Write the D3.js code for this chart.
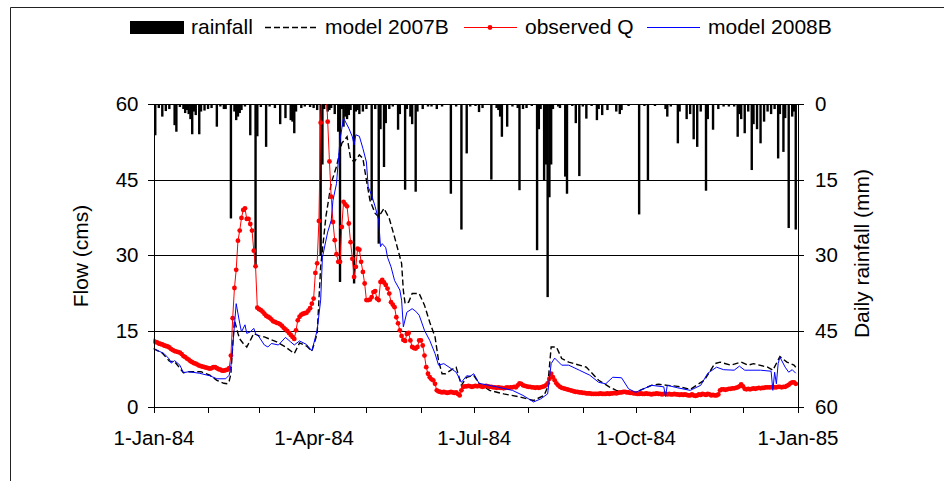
<!DOCTYPE html>
<html>
<head>
<meta charset="utf-8">
<script src="https://cdn.jsdelivr.net/npm/d3@7"></script>
<style>
  html, body { margin: 0; padding: 0; background: #fff; }
  svg { display: block; font-family: "Liberation Sans", Arial, sans-serif; }
</style>
</head>
<body>
<svg id="chart" width="944" height="481"></svg>
<script>
// ---- data -------------------------------------------------------------
// Daily observed flow (cms), 1-Jan-1984 .. 31-Dec-1984 (day 0 .. 365)
const observedQ = [
  13.0, 12.8, 12.7, 12.5, 12.4, 12.3, 12.1, 12.0, 11.9, 11.7,
  11.4, 11.2, 11.0, 10.9, 10.8, 10.7, 10.4, 10.0, 9.8, 9.5,
  9.3, 9.0, 8.8, 8.6, 8.5, 8.3, 8.1, 8.0, 7.9, 7.8,
  7.7, 7.6, 7.5, 7.6, 7.8, 7.8, 7.6, 7.4, 7.3, 7.1,
  7.1, 7.2, 7.3, 7.6, 10.1, 17.5, 23.5, 27.1, 32.9, 34.9,
  37.4, 39.0, 39.3, 37.2, 37.2, 36.2, 34.9, 30.9, 27.8, 19.6,
  19.3, 19.1, 18.8, 18.4, 18.0, 17.8, 17.6, 17.3, 16.9, 16.8,
  16.6, 16.5, 16.3, 16.0, 15.6, 15.3, 15.0, 14.6, 14.2, 13.8,
  13.4, 15.1, 17.1, 17.8, 18.2, 18.4, 18.5, 18.6, 19.0, 19.5,
  20.4, 21.4, 26.5, 28.4, 36.8, 56.3, 66.0, 75.0, 64.0, 56.5,
  48.6, 41.6, 36.6, 33.0, 30.2, 28.7, 28.7, 35.6, 40.6, 40.1,
  39.7, 36.3, 32.6, 29.3, 25.7, 27.7, 31.3, 31.1, 28.7, 26.7,
  24.4, 21.1, 21.1, 21.2, 21.7, 22.7, 22.9, 21.4, 21.1, 24.7,
  25.1, 24.6, 24.1, 23.4, 22.4, 20.7, 20.2, 19.7, 17.7, 16.5,
  15.1, 14.0, 13.2, 13.0, 14.4, 14.6, 13.1, 11.8, 11.6, 11.5,
  11.8, 13.1, 13.1, 12.1, 10.1, 7.8, 6.5, 5.8, 5.4, 5.2,
  4.5, 3.2, 3.0, 2.9, 2.8, 2.9, 2.8, 2.7, 2.8, 2.9,
  2.8, 2.7, 2.8, 2.5, 2.2, 3.2, 3.9, 4.0, 4.0, 4.1,
  4.0, 3.9, 4.0, 4.1, 4.0, 4.1, 4.0, 3.9, 4.0, 4.1,
  4.0, 3.9, 3.9, 3.8, 3.8, 3.7, 3.8, 3.7, 3.7, 3.6,
  3.7, 3.8, 3.7, 3.8, 3.8, 3.9, 3.8, 4.2, 4.6, 4.5,
  4.2, 4.1, 4.0, 3.9, 3.9, 3.8, 3.8, 3.7, 3.8, 3.7,
  3.8, 3.9, 4.0, 4.2, 4.6, 5.5, 6.5, 5.8, 5.2, 4.6,
  4.2, 3.9, 3.7, 3.6, 3.5, 3.4, 3.3, 3.2, 3.1, 3.0,
  2.9, 2.9, 2.8, 2.8, 2.7, 2.7, 2.6, 2.6, 2.6, 2.5,
  2.5, 2.5, 2.5, 2.5, 2.6, 2.5, 2.5, 2.5, 2.6, 2.5,
  2.6, 2.6, 2.7, 2.6, 2.7, 2.8, 2.8, 2.9, 2.9, 2.8,
  2.8, 2.7, 2.7, 2.6, 2.6, 2.5, 2.5, 2.6, 2.5, 2.5,
  2.6, 2.5, 2.5, 2.4, 2.5, 2.5, 2.6, 2.5, 2.5, 2.4,
  2.5, 2.5, 2.4, 2.5, 2.4, 2.4, 2.5, 2.4, 2.4, 2.3,
  2.4, 2.3, 2.4, 2.3, 2.2, 2.2, 2.4, 2.2, 2.1, 2.2,
  2.4, 2.3, 2.5, 2.4, 2.3, 2.5, 2.4, 2.2, 2.3, 2.2,
  2.2, 2.4, 3.2, 3.4, 3.4, 3.3, 3.4, 3.5, 3.5, 3.6,
  3.6, 3.7, 3.8, 4.0, 4.4, 4.0, 3.5, 3.4, 3.5, 3.4,
  3.5, 3.6, 3.5, 3.6, 3.7, 3.6, 3.7, 3.7, 3.8, 3.8,
  3.8, 3.8, 3.9, 3.8, 3.8, 3.9, 3.9, 3.8, 3.9, 3.9,
  4.1, 4.3, 4.6, 4.8, 4.8, 4.5
];

// Model 2007B simulated flow (cms): day of year and value
const model2007BDays = [0, 5, 9, 12, 17, 20, 27, 32, 36, 40, 42, 43, 44, 45, 46, 48, 49, 51, 53, 55,
  57, 60, 63, 70, 75, 80, 83, 87, 90, 93, 95, 98, 101, 104, 107, 110, 112, 114, 117, 119,
  121, 123, 126, 128, 131, 134, 137, 141, 142, 143, 145, 147, 151, 154, 157, 160, 162, 164, 166, 169,
  172, 175, 178, 182, 185, 191, 199, 208, 216, 222, 224, 226, 229, 232, 236, 246, 253, 259, 263, 269,
  274, 283, 287, 292, 298, 305, 313, 319, 322, 328, 334, 338, 341, 349, 352, 356, 360, 364, 365];
const model2007BFlow = [11.5, 10.6, 9.0, 8.9, 6.7, 6.9, 6.9, 6.2, 5.2, 4.6, 4.5, 5.0, 6.5, 12.0, 17.1, 14.5, 13.4, 12.5, 11.8, 13.1,
  14.5, 14.0, 13.8, 12.8, 11.8, 10.5, 12.6, 12.0, 11.0, 14.4, 27.7, 37.7, 44.3, 47.6, 52.2, 53.5, 49.2, 48.5, 49.9, 49.2,
  44.9, 40.9, 38.3, 37.6, 39.3, 37.3, 33.6, 28.4, 23.0, 20.4, 20.7, 22.4, 22.4, 20.1, 16.7, 13.8, 9.1, 6.5, 6.5, 7.2,
  7.8, 4.2, 5.8, 6.2, 4.6, 3.2, 2.5, 1.9, 1.2, 2.2, 3.9, 11.8, 11.8, 9.5, 8.8, 7.8, 5.2, 3.9, 3.2, 2.9,
  2.8, 4.2, 4.4, 4.2, 4.0, 3.4, 5.2, 8.5, 8.8, 8.2, 8.8, 8.2, 8.5, 7.8, 7.2, 9.9, 8.8, 8.2, 7.8];

// Model 2008B simulated flow (cms): day of year and value
const model2008BDays = [0, 3, 6, 9, 10, 12, 15, 17, 20, 26, 32, 36, 41, 43, 44, 45, 47, 49, 50, 52,
  53, 55, 57, 58, 60, 63, 65, 67, 71, 75, 78, 80, 83, 87, 90, 93, 95, 96, 99, 101,
  102, 104, 106, 108, 111, 113, 114, 115, 117, 119, 121, 122, 124, 126, 128, 129, 130, 132, 133, 135,
  137, 140, 141, 142, 144, 147, 149, 151, 154, 157, 160, 162, 165, 168, 172, 175, 178, 180, 182, 185,
  195, 204, 210, 216, 220, 224, 226, 228, 232, 236, 242, 248, 253, 257, 261, 266, 270, 274, 283, 290,
  291, 292, 298, 305, 311, 315, 320, 324, 330, 333, 336, 345, 351, 352, 353, 354, 355, 356, 359, 361,
  363, 365];
const model2008BFlow = [11.5, 11.0, 10.5, 9.4, 8.6, 9.1, 8.2, 6.7, 6.9, 6.6, 6.1, 5.5, 5.5, 6.2, 8.0, 11.8, 20.4, 16.5, 14.8, 16.2,
  14.5, 14.8, 15.5, 14.5, 13.8, 12.2, 11.8, 12.5, 12.2, 13.7, 12.8, 12.2, 13.0, 12.3, 11.0, 15.1, 21.1, 29.6, 34.6, 36.9,
  40.9, 44.2, 52.9, 57.2, 55.2, 53.5, 51.9, 53.9, 53.6, 51.2, 48.5, 43.6, 41.9, 39.6, 36.9, 31.7, 32.3, 31.5, 29.6, 27.7,
  25.0, 23.1, 21.1, 15.8, 18.7, 19.4, 18.9, 18.1, 15.1, 13.1, 10.5, 8.2, 8.5, 7.8, 6.8, 4.8, 6.1, 6.0, 6.5, 4.6,
  3.9, 3.2, 2.2, 0.9, 1.5, 2.5, 8.5, 9.6, 8.2, 8.2, 7.2, 6.2, 4.8, 4.5, 5.8, 5.7, 3.5, 2.8, 4.2, 3.9,
  2.0, 4.2, 3.7, 3.2, 4.2, 6.6, 7.8, 7.3, 7.2, 8.0, 7.2, 7.2, 7.0, 3.2, 6.8, 4.5, 8.5, 9.8, 7.8, 6.8,
  7.3, 6.6];

// Daily rainfall (mm) on the days that had rain
const rainDays = [1, 3, 5, 7, 9, 12, 13, 15, 17, 18, 19, 20, 21, 22, 23, 24, 26, 27, 29, 31,
  33, 36, 38, 40, 41, 44, 46, 47, 48, 49, 50, 52, 55, 58, 59, 61, 64, 66, 69, 72,
  75, 78, 79, 80, 81, 84, 86, 89, 91, 93, 95, 96, 97, 99, 100, 101, 103, 105, 106, 107,
  108, 109, 110, 111, 112, 114, 115, 116, 117, 119, 121, 124, 126, 128, 129, 131, 132, 134, 136, 139,
  140, 143, 144, 146, 147, 149, 150, 153, 156, 158, 161, 164, 169, 172, 175, 178, 180, 183, 185, 187,
  192, 195, 196, 197, 198, 201, 204, 207, 208, 210, 212, 215, 218, 219, 220, 222, 223, 224, 225, 226,
  227, 230, 231, 234, 235, 238, 240, 242, 244, 246, 249, 252, 253, 255, 258, 263, 265, 266, 270, 276,
  279, 281, 285, 291, 292, 294, 298, 299, 303, 305, 307, 309, 311, 314, 315, 318, 321, 324, 327, 330,
  332, 333, 334, 336, 338, 340, 341, 343, 345, 347, 349, 351, 353, 355, 356, 358, 359, 361, 363, 364,
  365];
const rainMm = [6.2, 0.8, 2.5, 1.4, 1.0, 4.2, 5.5, 0.6, 1.0, 1.8, 1.2, 2.0, 3.0, 6.0, 1.5, 2.2, 6.0, 1.5, 1.3, 1.0,
  0.8, 4.5, 0.5, 1.0, 1.0, 22.7, 1.5, 3.2, 2.5, 1.8, 1.2, 0.5, 6.2, 32.3, 6.4, 0.6, 8.5, 0.5, 0.8, 4.0,
  2.8, 3.2, 3.5, 5.8, 1.5, 0.8, 0.5, 0.6, 0.8, 1.2, 30.0, 12.0, 1.0, 1.5, 1.2, 0.8, 2.0, 5.5, 35.3, 1.0,
  4.5, 2.5, 3.0, 2.2, 1.2, 35.6, 1.5, 1.2, 2.0, 1.5, 1.0, 19.1, 1.0, 27.7, 5.0, 12.5, 3.8, 1.0, 0.5, 5.1,
  2.0, 17.0, 1.0, 2.5, 4.0, 17.4, 1.5, 1.0, 0.5, 0.5, 1.0, 0.5, 17.8, 0.5, 24.9, 9.8, 0.5, 0.4, 1.6, 0.8,
  15.0, 0.8, 1.2, 2.5, 6.5, 4.5, 0.5, 0.8, 17.1, 1.0, 0.8, 0.4, 29.0, 5.0, 1.0, 15.1, 12.0, 38.3, 18.5, 12.0,
  1.0, 0.5, 0.8, 14.4, 17.8, 0.4, 3.8, 14.3, 0.5, 2.9, 0.4, 3.2, 1.0, 2.2, 1.2, 1.5, 2.0, 1.2, 0.4, 21.9,
  0.4, 15.1, 0.4, 1.0, 2.5, 0.5, 7.8, 1.5, 3.0, 2.0, 7.0, 8.5, 1.5, 17.2, 3.0, 5.1, 1.0, 0.5, 0.5, 0.5,
  6.5, 2.0, 3.0, 5.8, 1.5, 13.1, 4.0, 5.0, 7.8, 3.5, 1.5, 2.0, 1.0, 10.8, 2.0, 9.5, 2.8, 24.6, 2.5, 1.5,
  24.9];

const flowTicks = [0, 15, 30, 45, 60];
const rainTicks = [0, 15, 30, 45, 60];
const labelledMonths = [0, 3, 6, 9];   // Jan, Apr, Jul, Oct

// ---- layout -----------------------------------------------------------
const svg = d3.select("#chart");
const plotL = 153.5, plotR = 798, plotT = 104, plotB = 406.5;
const font = 20.5;

const start = new Date(Date.UTC(1984, 0, 1));
const end = new Date(Date.UTC(1985, 0, 1));
const dayDate = d => d3.utcDay.offset(start, d);

const x = d3.scaleUtc().domain([start, end]).range([plotL, plotR - 0.5]);
const y = d3.scaleLinear().domain([0, 60]).range([plotB, plotT]);
const yRain = d3.scaleLinear().domain([0, 60]).range([plotT, plotB]);

// outer chart frame (left and top edges)
svg.append("path")
  .attr("d", "M10.5,481V7.5H944")
  .attr("fill", "none").attr("stroke", "#222").attr("stroke-width", 1);

svg.append("defs").append("clipPath").attr("id", "plotClip")
  .append("rect").attr("x", plotL).attr("y", plotT)
  .attr("width", plotR - plotL).attr("height", plotB - plotT);

// horizontal gridlines
svg.append("g").selectAll("line").data(flowTicks.filter(v => v > 0)).join("line")
  .attr("x1", plotL).attr("x2", plotR)
  .attr("y1", d => Math.round(y(d)) + 0.5).attr("y2", d => Math.round(y(d)) + 0.5)
  .attr("stroke", "#000").attr("stroke-width", 1);

// rainfall bars hanging from the top (secondary, reversed axis)
const rain = rainDays.map((d, i) => ({ date: dayDate(d), mm: rainMm[i] }));
svg.append("g").selectAll("rect").data(rain).join("rect")
  .attr("x", d => x(d.date) - 1.2)
  .attr("width", 2.4)
  .attr("y", yRain(0))
  .attr("height", d => yRain(d.mm) - yRain(0))
  .attr("fill", "#000");

const plot = svg.append("g").attr("clip-path", "url(#plotClip)");
const line = d3.line().x(d => x(d.date)).y(d => y(d.q));

// model 2007B (black dashed)
const m2007 = model2007BDays.map((d, i) => ({ date: dayDate(d), q: model2007BFlow[i] }));
plot.append("path").datum(m2007).attr("d", line)
  .attr("fill", "none").attr("stroke", "#000").attr("stroke-width", 1.4)
  .attr("stroke-dasharray", "6,3");

// observed Q (red line with round markers)
const obs = observedQ.map((q, i) => ({ date: dayDate(i), q }));
plot.append("path").datum(obs).attr("d", line)
  .attr("fill", "none").attr("stroke", "#ff0000").attr("stroke-width", 1);
plot.append("g").selectAll("circle").data(obs).join("circle")
  .attr("cx", d => x(d.date)).attr("cy", d => y(d.q)).attr("r", 2.4)
  .attr("fill", "#ff0000");

// model 2008B (blue)
const m2008 = model2008BDays.map((d, i) => ({ date: dayDate(d), q: model2008BFlow[i] }));
plot.append("path").datum(m2008).attr("d", line)
  .attr("fill", "none").attr("stroke", "#0000ff").attr("stroke-width", 1);

// ---- axes -------------------------------------------------------------
function styleAxis(g) {
  g.attr("font-family", null).attr("font-size", null);
  g.selectAll("path, line").attr("stroke", "#000").attr("shape-rendering", "crispEdges");
  g.selectAll("text").attr("fill", "#000").style("font-size", font + "px");
}

svg.append("g").attr("transform", `translate(${plotL},0)`)
  .call(d3.axisLeft(y).tickValues(flowTicks).tickSize(6).tickSizeOuter(0).tickPadding(9))
  .call(styleAxis);

svg.append("g").attr("transform", `translate(${plotR},0)`)
  .call(d3.axisRight(yRain).tickValues(rainTicks).tickSize(6).tickSizeOuter(0).tickPadding(11))
  .call(styleAxis);

const fmt = d3.utcFormat("%-d-%b-%y");
const xAxis = svg.append("g").attr("transform", `translate(0,${plotB})`)
  .call(d3.axisBottom(x).ticks(d3.utcMonth.every(1)).tickSize(6).tickSizeOuter(0)
    .tickFormat(d => labelledMonths.includes(d.getUTCMonth()) ? fmt(d) : ""))
  .call(styleAxis);
xAxis.selectAll("text").attr("y", 38.5).attr("dy", 0);

// axis titles
svg.append("text")
  .attr("transform", "translate(88,256) rotate(-90)")
  .attr("text-anchor", "middle").style("font-size", "21px")
  .text("Flow (cms)");
svg.append("text")
  .attr("transform", "translate(868.5,253.5) rotate(-90)")
  .attr("text-anchor", "middle").style("font-size", "21px")
  .text("Daily rainfall (mm)");

// ---- legend -----------------------------------------------------------
const lg = svg.append("g").style("font-size", "21px");
const ly = 27.5, lt = 34;
lg.append("rect").attr("x", 130).attr("y", 21).attr("width", 54).attr("height", 13).attr("fill", "#000");
lg.append("text").attr("x", 191).attr("y", lt).text("rainfall");

lg.append("line").attr("x1", 265).attr("x2", 318).attr("y1", ly).attr("y2", ly)
  .attr("stroke", "#000").attr("stroke-width", 1.4).attr("stroke-dasharray", "6,3");
lg.append("text").attr("x", 325).attr("y", lt).text("model 2007B");

lg.append("line").attr("x1", 464).attr("x2", 517).attr("y1", ly).attr("y2", ly)
  .attr("stroke", "#ff0000").attr("stroke-width", 1.2);
lg.append("circle").attr("cx", 490).attr("cy", ly).attr("r", 2.4).attr("fill", "#ff0000");
lg.append("text").attr("x", 525).attr("y", lt).text("observed Q");

lg.append("line").attr("x1", 647).attr("x2", 700).attr("y1", ly).attr("y2", ly)
  .attr("stroke", "#0000ff").attr("stroke-width", 1.2);
lg.append("text").attr("x", 708).attr("y", lt).text("model 2008B");
</script>
</body>
</html>
